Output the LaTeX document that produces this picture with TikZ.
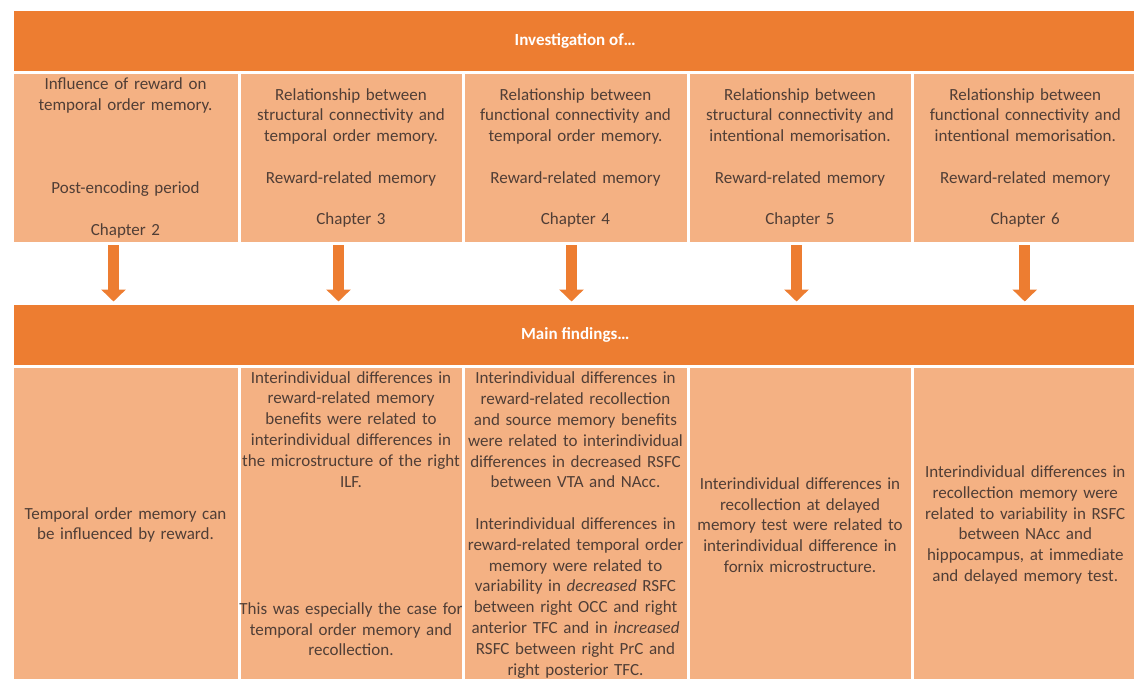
\documentclass[tikz,border=0pt]{standalone}
\usepackage{fontspec}
\setmainfont{Carlito}
\usepackage{tikz}
\usetikzlibrary{arrows.meta}
\definecolor{darkorange}{HTML}{ED7D31}
\definecolor{lightorange}{HTML}{F4B183}
\definecolor{cellink}{RGB}{80,62,54}

\begin{document}
\begin{tikzpicture}[line join=miter,x=1pt,y=-1pt,
    band/.style={fill=darkorange,draw=white,line width=3pt,inner sep=0pt,anchor=north west,text=white,font=\fontsize{17}{20.8}\selectfont\bfseries},
    cell/.style={fill=lightorange,draw=white,line width=3pt,inner sep=0pt,anchor=north west,text=cellink,text width=220pt,align=center,font=\fontsize{17}{20.8}\selectfont},
    note/.style={inner sep=0pt,anchor=north,text=cellink,text width=220pt,align=center,font=\fontsize{17}{20.8}\selectfont},
    down/.style={-{Triangle[width=24pt,length=12pt]},line width=11pt,darkorange}]
        \useasboundingbox (0,0) rectangle (1134,679);

    % top band and chapters
    \node[band,minimum width=1126.5,minimum height=62.5] (inv) at (10.5,8.5) {Investigation of…};
    \node[cell,minimum width=227,minimum height=171] (q1) at (10.5,71) {Influence of reward on\\ temporal order memory.\\[62.4pt] Post-encoding period\\[20.8pt] Chapter 2};
    \node[cell,minimum width=224,minimum height=171] (q2) at (237.5,71) {Relationship between\\ structural connectivity and\\ temporal order memory.\\[20.8pt] Reward-related memory\\[20.8pt] Chapter 3};
    \node[cell,minimum width=225,minimum height=171] (q3) at (461.5,71) {Relationship between\\ functional connectivity and\\ temporal order memory.\\[20.8pt] Reward-related memory\\[20.8pt] Chapter 4};
    \node[cell,minimum width=224,minimum height=171] (q4) at (686.5,71) {Relationship between\\ structural connectivity and\\ intentional memorisation.\\[20.8pt] Reward-related memory\\[20.8pt] Chapter 5};
    \node[cell,minimum width=226.5,minimum height=171] (q5) at (910.5,71) {Relationship between\\ functional connectivity and\\ intentional memorisation.\\[20.8pt] Reward-related memory\\[20.8pt] Chapter 6};

    % bottom band and findings
    \node[band,minimum width=1126.5,minimum height=63.5] (fnd) at (10.5,301.5) {Main findings…};
    \node[cell,minimum width=227,minimum height=317] (f1) at (10.5,365) {Temporal order memory can\\ be influenced by reward.};
    \node[cell,minimum width=224,minimum height=317] (f2) at (237.5,365) {};
    \node[note] (f2t) at ([yshift=-6pt]f2.north) {Interindividual differences in\\ reward-related memory\\ benefits were related to\\ interindividual differences in\\ the microstructure of the right\\ ILF.\\[106.5pt] \makebox[\linewidth]{This was especially the case for}\\ temporal order memory and\\ recollection.};
    \node[cell,minimum width=225,minimum height=317] (f3) at (461.5,365) {Interindividual differences in\\ reward-related recollection\\ and source memory benefits\\ were related to interindividual\\ differences in decreased RSFC\\ between VTA and NAcc.\\[20.8pt] Interindividual differences in\\ reward-related temporal order\\ memory were related to\\ variability in \textit{decreased} RSFC\\ between right OCC and right\\ anterior TFC and in \textit{increased}\\ RSFC between right PrC and\\ right posterior TFC.};
    \node[cell,minimum width=224,minimum height=317] (f4) at (686.5,365) {Interindividual differences in\\ recollection at delayed\\ memory test were related to\\ interindividual difference in\\ fornix microstructure.};
    \node[cell,minimum width=226.5,minimum height=317] (f5) at (910.5,365) {Interindividual differences in\\ recollection memory were\\ related to variability in RSFC\\ between NAcc and\\ hippocampus, at immediate\\ and delayed memory test.};

    % arrows
    \draw[down] ([xshift=-12pt]q1.south) -- ([xshift=-12pt]q1.south |- fnd.north);
    \draw[down] ([xshift=-12.5pt]q2.south) -- ([xshift=-12.5pt]q2.south |- fnd.north);
    \draw[down] ([xshift=-4pt]q3.south) -- ([xshift=-4pt]q3.south |- fnd.north);
    \draw[down] ([xshift=-3.5pt]q4.south) -- ([xshift=-3.5pt]q4.south |- fnd.north);
    \draw[down] ([xshift=-0.5pt]q5.south) -- ([xshift=-0.5pt]q5.south |- fnd.north);

    \end{tikzpicture}
\end{document}
